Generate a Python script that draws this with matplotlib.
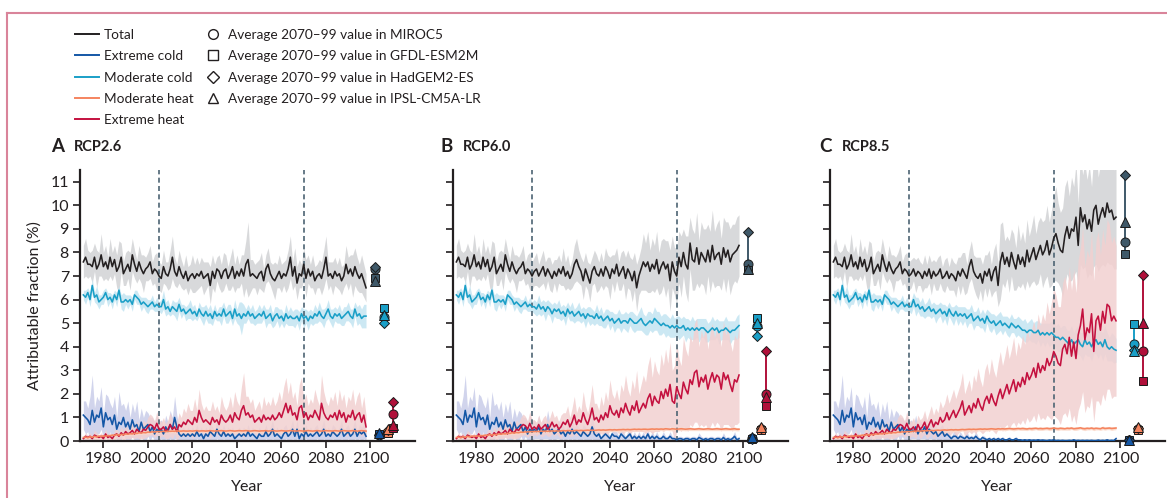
import numpy as np
import matplotlib.pyplot as plt
from matplotlib.lines import Line2D

plt.rcParams['font.family'] = ['Lato', 'DejaVu Sans']
plt.rcParams['font.size'] = 11

series_names = ['Total', 'Extreme cold', 'Moderate cold', 'Moderate heat', 'Extreme heat']
model_labels = ['Average 2070\u201399 value in MIROC5', 'Average 2070\u201399 value in GFDL-ESM2M',
                'Average 2070\u201399 value in HadGEM2-ES', 'Average 2070\u201399 value in IPSL-CM5A-LR']
panel_letters = ['A', 'B', 'C']
scenarios = ['RCP2.6', 'RCP6.0', 'RCP8.5']
hist_start = 1971
dashed_years = [2005, 2070]
xticks = [1980, 2000, 2020, 2040, 2060, 2080, 2100]
yticks = list(range(0, 12))

# ---- historical 1971-2005 (same in all panels) ----
tot_hist = [7.6, 7.8, 7.5, 7.5, 7.4, 7.8, 7.3, 7.5, 7.9, 7.4,
            7.6, 7.3, 7.8, 7.4, 7.7, 7.2, 7.4, 7.8, 7.1, 7.3,
            7.5, 7.2, 7.9, 7.5, 7.2, 7.6, 7.3, 7.1, 7.3, 7.4,
            7.6, 7.1, 7.3, 7.2, 7.0]
tot_hist_sp = [0.7, 0.8, 0.6, 0.5, 0.7, 0.6, 0.8, 0.5, 0.9, 0.6,
               0.7, 0.5, 0.8, 0.6, 0.6, 0.7, 1.1, 0.6, 0.5, 0.7,
               0.6, 0.8, 0.7, 0.6, 0.5, 0.7, 0.6, 0.8, 0.5, 0.6,
               0.7, 0.5, 0.6, 0.8, 0.6]
ecold_hist = [1.1, 1.0, 0.9, 0.7, 1.3, 0.8, 1.1, 1.0, 1.4, 0.6,
              1.2, 0.9, 1.0, 0.7, 1.1, 0.5, 0.8, 0.7, 1.0, 0.6,
              0.8, 0.5, 0.9, 0.6, 0.7, 0.4, 0.8, 0.5, 0.6, 0.7,
              0.4, 0.6, 0.3, 0.5, 0.4]
ecold_hist_sp = [0.6, 0.7, 0.5, 1.2, 1.5, 0.6, 0.8, 0.7, 0.9, 0.5,
                 0.8, 1.0, 0.6, 0.7, 0.8, 0.5, 1.3, 0.8, 0.6, 0.7,
                 0.9, 0.5, 0.7, 0.6, 1.0, 0.5, 0.6, 0.5, 0.7, 0.5,
                 0.6, 0.4, 0.5, 0.6, 0.4]
modc_hist = [6.2, 6.1, 6.3, 6.0, 6.6, 6.1, 6.2, 5.9, 6.0, 6.1,
             6.3, 6.0, 6.1, 5.9, 6.2, 6.0, 6.4, 5.9, 5.9, 6.0,
             5.9, 6.0, 5.8, 6.2, 6.1, 6.0, 5.8, 5.9, 5.8, 5.7,
             5.8, 5.9, 5.7, 5.8, 5.7]
modc_hist_sp = [0.2, 0.3, 0.2, 0.3, 0.3, 0.2, 0.4, 0.3, 0.2, 0.3,
                0.2, 0.3, 0.2, 0.3, 0.2, 0.3, 0.2, 0.3, 0.4, 0.2,
                0.3, 0.2, 0.3, 0.2, 0.3, 0.2, 0.3, 0.2, 0.3, 0.3,
                0.2, 0.3, 0.2, 0.3, 0.2]
mheat_hist = [0.15, 0.17, 0.14, 0.18, 0.16, 0.2, 0.17, 0.21, 0.19, 0.22,
              0.2, 0.23, 0.22, 0.25, 0.24, 0.27, 0.25, 0.28, 0.27, 0.3,
              0.29, 0.31, 0.3, 0.33, 0.32, 0.35, 0.34, 0.36, 0.35, 0.38,
              0.37, 0.39, 0.38, 0.4, 0.4]
mheat_hist_sp = [0.04, 0.05, 0.04, 0.05, 0.05, 0.04, 0.05, 0.06, 0.05, 0.05,
                 0.06, 0.05, 0.06, 0.05, 0.06, 0.06, 0.05, 0.06, 0.07, 0.06,
                 0.06, 0.07, 0.06, 0.07, 0.06, 0.07, 0.07, 0.06, 0.07, 0.08,
                 0.07, 0.07, 0.08, 0.07, 0.08]
eheat_hist = [0.1, 0.2, 0.15, 0.2, 0.1, 0.25, 0.2, 0.15, 0.2, 0.1,
              0.3, 0.15, 0.2, 0.1, 0.25, 0.3, 0.2, 0.35, 0.25, 0.4,
              0.3, 0.35, 0.45, 0.3, 0.5, 0.4, 0.35, 0.5, 0.45, 0.6,
              0.7, 0.65, 0.5, 0.75, 0.5]
eheat_hist_sp = [0.1, 0.15, 0.1, 0.15, 0.1, 0.2, 0.15, 0.1, 0.15, 0.1,
                 0.2, 0.1, 0.15, 0.1, 0.2, 0.2, 0.15, 0.25, 0.2, 0.3,
                 0.2, 0.25, 0.3, 0.2, 0.35, 0.3, 0.25, 0.4, 0.3, 0.4,
                 0.45, 0.4, 0.35, 0.5, 0.4]

# moderate heat band width 2006-2098 (thin, similar in all panels)
mheat_fut_sp = [0.06, 0.07, 0.06, 0.08, 0.07, 0.06, 0.07, 0.08, 0.07, 0.06,
                0.07, 0.08, 0.07, 0.06, 0.07, 0.08, 0.07, 0.07, 0.06, 0.08,
                0.07, 0.06, 0.08, 0.07, 0.07, 0.06, 0.08, 0.07, 0.06, 0.07,
                0.08, 0.07, 0.06, 0.07, 0.08, 0.07, 0.06, 0.07, 0.08, 0.07,
                0.07, 0.06, 0.08, 0.07, 0.06, 0.07, 0.08, 0.07, 0.06, 0.07,
                0.08, 0.07, 0.07, 0.06, 0.08, 0.07, 0.06, 0.07, 0.08, 0.07,
                0.06, 0.07, 0.08, 0.07, 0.06, 0.07, 0.08, 0.07, 0.07, 0.06,
                0.08, 0.07, 0.06, 0.07, 0.08, 0.07, 0.06, 0.07, 0.08, 0.07,
                0.06, 0.07, 0.08, 0.07, 0.06, 0.07, 0.08, 0.07, 0.06, 0.07,
                0.08, 0.07, 0.07]

# ---- RCP2.6, 2006-2098 ----
tot_A = [6.9, 7.4, 7.1, 7.0, 7.3, 7.8, 7.2, 7.0, 7.4, 7.1,
         6.9, 7.2, 6.8, 7.0, 7.1, 6.9, 7.1, 7.0, 7.2, 6.9,
         7.0, 7.1, 6.6, 7.2, 6.9, 7.3, 7.2, 6.9, 7.2, 7.3,
         6.9, 7.1, 7.4, 6.9, 7.2, 7.0, 7.3, 7.0, 7.5, 7.7,
         7.0, 7.1, 7.0, 6.9, 7.1, 7.2, 6.8, 7.3, 7.5, 7.1,
         6.9, 6.8, 7.0, 7.2, 6.9, 7.1, 7.0, 7.3, 7.8, 7.0,
         7.4, 6.7, 7.1, 7.0, 7.5, 6.9, 7.3, 7.0, 7.2, 6.8,
         7.0, 7.1, 6.9, 7.3, 7.8, 7.0, 7.1, 6.9, 7.2, 7.0,
         7.1, 6.8, 7.0, 7.5, 7.1, 7.3, 7.0, 7.4, 7.1, 6.9,
         7.1, 6.8, 6.5]
tot_A_sp = [0.6, 0.7, 0.5, 0.6, 0.8, 0.9, 0.6, 0.5, 0.7, 0.6,
            0.5, 0.7, 0.6, 0.5, 0.8, 0.6, 0.7, 0.5, 0.6, 0.7,
            0.6, 0.5, 0.8, 0.7, 0.6, 0.5, 0.7, 0.6, 0.8, 0.6,
            0.5, 0.7, 0.8, 0.6, 0.7, 0.5, 0.6, 0.9, 1.0, 1.6,
            0.7, 0.6, 0.5, 0.7, 0.6, 0.8, 0.5, 0.6, 0.7, 0.5,
            0.6, 0.8, 0.5, 0.7, 0.6, 0.5, 0.7, 0.8, 0.9, 0.6,
            0.8, 0.7, 0.6, 0.5, 0.7, 0.8, 0.6, 0.5, 0.7, 0.6,
            0.5, 0.6, 0.7, 0.8, 0.9, 0.6, 0.5, 0.7, 0.6, 0.5,
            0.7, 0.6, 0.5, 0.8, 0.7, 0.6, 0.9, 0.8, 0.7, 0.6,
            0.8, 0.7, 0.6]
ecold_A = [0.5, 0.3, 0.6, 0.4, 0.7, 0.5, 1.0, 0.6, 0.3, 0.2,
           0.3, 0.2, 0.3, 0.2, 0.3, 0.2, 0.4, 0.2, 0.3, 0.1,
           0.3, 0.2, 0.4, 0.3, 0.2, 0.5, 0.3, 0.2, 0.4, 0.2,
           0.3, 0.2, 0.3, 0.1, 0.2, 0.3, 0.2, 0.3, 0.2, 0.4,
           0.2, 0.3, 0.2, 0.1, 0.3, 0.2, 0.2, 0.4, 0.2, 0.3,
           0.5, 0.2, 0.3, 0.2, 0.1, 0.3, 0.4, 0.2, 0.3, 0.5,
           0.2, 0.5, 0.1, 0.3, 0.2, 0.4, 0.2, 0.3, 0.2, 0.3,
           0.4, 0.2, 0.3, 0.5, 0.2, 0.3, 0.2, 0.4, 0.3, 0.2,
           0.3, 0.5, 0.2, 0.3, 0.4, 0.2, 0.3, 0.5, 0.2, 0.4,
           0.3, 0.4, 0.2]
ecold_A_sp = [0.4, 0.3, 0.5, 0.4, 0.6, 0.5, 0.9, 0.5, 0.3, 0.3,
              0.3, 0.2, 0.3, 0.2, 0.3, 0.2, 0.3, 0.2, 0.3, 0.2,
              0.3, 0.2, 0.4, 0.3, 0.2, 0.4, 0.3, 0.2, 0.3, 0.2,
              0.3, 0.2, 0.3, 0.2, 0.2, 0.3, 0.2, 0.3, 0.2, 0.3,
              0.2, 0.3, 0.2, 0.2, 0.3, 0.2, 0.2, 0.3, 0.2, 0.3,
              0.4, 0.2, 0.3, 0.2, 0.2, 0.3, 0.3, 0.2, 0.3, 0.4,
              0.2, 0.4, 0.2, 0.3, 0.2, 0.3, 0.2, 0.3, 0.2, 0.3,
              0.3, 0.2, 0.3, 0.4, 0.2, 0.3, 0.2, 0.3, 0.3, 0.2,
              0.3, 0.4, 0.2, 0.3, 0.3, 0.2, 0.3, 0.4, 0.2, 0.3,
              0.3, 0.3, 0.2]
modc_A = [5.7, 6.0, 5.6, 5.7, 5.5, 5.7, 5.6, 5.5, 5.8, 5.5,
          5.6, 5.4, 5.5, 5.6, 5.4, 5.5, 5.3, 5.6, 5.4, 5.3,
          5.5, 5.3, 5.4, 5.2, 5.5, 5.3, 5.4, 5.3, 5.6, 5.3,
          5.4, 5.5, 5.2, 5.6, 5.3, 5.4, 5.2, 5.4, 5.3, 5.5,
          5.3, 5.4, 5.2, 5.3, 5.4, 5.3, 5.5, 5.2, 5.3, 5.4,
          5.1, 5.3, 5.4, 5.2, 5.3, 5.1, 5.4, 5.2, 5.3, 5.2,
          5.2, 5.3, 5.1, 5.4, 5.2, 5.3, 5.1, 5.3, 5.2, 5.4,
          5.3, 5.5, 5.3, 5.2, 5.4, 5.6, 5.3, 5.2, 5.4, 5.3,
          5.4, 5.2, 5.3, 5.4, 5.5, 5.3, 5.2, 5.6, 5.3, 5.4,
          5.2, 5.3, 5.3]
modc_A_sp = [0.3, 0.4, 0.3, 0.3, 0.2, 0.3, 0.3, 0.4, 0.3, 0.3,
             0.2, 0.3, 0.3, 0.4, 0.3, 0.3, 0.2, 0.3, 0.3, 0.4,
             0.3, 0.3, 0.4, 0.3, 0.3, 0.2, 0.3, 0.4, 0.3, 0.3,
             0.4, 0.3, 0.3, 0.4, 0.3, 0.5, 0.7, 0.4, 0.3, 0.3,
             0.3, 0.4, 0.3, 0.3, 0.4, 0.3, 0.3, 0.4, 0.3, 0.4,
             0.3, 0.4, 0.3, 0.4, 0.3, 0.3, 0.4, 0.3, 0.4, 0.3,
             0.4, 0.3, 0.4, 0.3, 0.4, 0.3, 0.4, 0.3, 0.3, 0.4,
             0.3, 0.4, 0.3, 0.4, 0.3, 0.4, 0.3, 0.4, 0.3, 0.3,
             0.4, 0.3, 0.4, 0.3, 0.4, 0.3, 0.4, 0.3, 0.4, 0.4,
             0.4, 0.5, 0.5]
mheat_A = [0.4, 0.41, 0.4, 0.42, 0.41, 0.42, 0.41, 0.43, 0.42, 0.42,
           0.43, 0.42, 0.42, 0.43, 0.42, 0.43, 0.44, 0.42, 0.43, 0.43,
           0.42, 0.43, 0.44, 0.43, 0.42, 0.43, 0.43, 0.44, 0.43, 0.42,
           0.43, 0.44, 0.43, 0.42, 0.43, 0.44, 0.43, 0.43, 0.44, 0.43,
           0.42, 0.43, 0.44, 0.43, 0.42, 0.43, 0.43, 0.44, 0.42, 0.43,
           0.44, 0.43, 0.42, 0.43, 0.44, 0.43, 0.42, 0.43, 0.44, 0.43,
           0.43, 0.42, 0.44, 0.43, 0.42, 0.43, 0.44, 0.43, 0.42, 0.43,
           0.44, 0.43, 0.42, 0.43, 0.44, 0.43, 0.43, 0.42, 0.44, 0.43,
           0.42, 0.43, 0.44, 0.43, 0.42, 0.43, 0.44, 0.43, 0.42, 0.43,
           0.44, 0.43, 0.42]
eheat_A = [0.5, 0.6, 0.4, 0.5, 0.7, 0.5, 0.6, 0.4, 0.7, 0.6,
           0.8, 0.7, 0.9, 0.8, 0.7, 1.0, 0.8, 1.3, 1.0, 0.8,
           0.9, 0.8, 0.7, 1.0, 0.8, 0.9, 0.7, 1.1, 0.9, 0.8,
           0.9, 1.1, 0.8, 1.2, 1.0, 0.9, 1.3, 1.5, 1.1, 1.2,
           1.0, 1.1, 0.8, 0.9, 1.0, 0.8, 1.1, 0.9, 1.0, 0.9,
           1.1, 0.9, 1.0, 1.2, 1.0, 1.3, 1.6, 1.2, 1.5, 1.1,
           1.2, 0.9, 1.4, 1.5, 1.0, 1.2, 0.9, 1.1, 1.0, 1.3,
           1.1, 0.9, 1.6, 1.2, 1.0, 0.9, 1.1, 1.0, 1.2, 0.9,
           1.3, 1.0, 1.2, 0.8, 1.1, 1.0, 1.3, 0.9, 1.1, 1.2,
           0.8, 1.1, 0.6]
eheat_A_sp = [0.3, 0.4, 0.3, 0.4, 0.5, 0.4, 0.3, 0.4, 0.5, 0.4,
              0.6, 0.5, 0.7, 0.5, 0.6, 0.8, 0.5, 0.9, 0.6, 0.5,
              0.6, 0.5, 0.6, 0.7, 0.5, 0.6, 0.5, 0.8, 0.6, 0.5,
              0.6, 0.8, 0.6, 0.9, 0.7, 0.6, 1.0, 1.4, 0.8, 0.7,
              0.6, 0.7, 0.5, 0.6, 0.7, 0.5, 0.8, 0.6, 0.7, 0.6,
              0.8, 0.6, 0.7, 0.9, 0.7, 1.0, 1.1, 0.8, 1.0, 0.7,
              0.9, 0.6, 1.0, 1.2, 0.7, 0.8, 0.6, 0.7, 0.6, 0.9,
              0.7, 0.6, 1.2, 0.9, 0.7, 0.6, 0.8, 0.7, 0.9, 0.6,
              0.9, 0.7, 0.8, 0.6, 0.8, 0.7, 0.9, 0.6, 0.8, 0.9,
              0.6, 0.8, 0.5]

# ---- RCP6.0, 2006-2098 ----
tot_B = [7.2, 7.3, 7.0, 7.2, 7.4, 7.0, 7.3, 7.1, 6.9, 7.2,
         7.0, 7.3, 7.1, 7.4, 7.0, 7.2, 6.9, 7.1, 7.5, 7.7,
         7.4, 7.2, 6.8, 7.3, 7.0, 6.7, 7.2, 7.4, 7.1, 7.0,
         7.3, 7.0, 7.4, 7.2, 6.9, 7.3, 7.1, 7.5, 7.0, 7.2,
         7.4, 6.9, 7.3, 7.1, 6.8, 7.2, 6.5, 7.0, 7.3, 7.6,
         7.4, 7.6, 7.2, 7.5, 7.3, 7.7, 7.1, 7.4, 7.6, 7.3,
         7.5, 6.8, 7.6, 7.2, 7.0, 7.8, 7.4, 8.0, 7.5, 7.3,
         8.4, 7.7, 7.6, 8.2, 7.5, 8.0, 7.8, 7.6, 8.1, 7.6,
         8.3, 7.7, 7.9, 8.0, 7.5, 8.2, 7.8, 8.1, 7.6, 7.9,
         8.0, 8.1, 8.3]
tot_B_sp = [0.6, 0.7, 0.5, 0.6, 0.7, 0.6, 0.5, 0.7, 0.6, 0.5,
            0.7, 0.6, 0.5, 0.8, 0.6, 0.7, 0.5, 0.6, 0.8, 0.9,
            0.7, 0.6, 0.8, 0.7, 0.6, 0.8, 0.6, 0.7, 0.8, 0.6,
            0.7, 0.6, 0.8, 0.7, 0.9, 0.6, 0.8, 0.7, 0.6, 0.8,
            0.7, 0.9, 0.8, 0.7, 0.9, 0.8, 1.0, 0.8, 0.9, 1.2,
            1.0, 1.3, 0.9, 1.1, 1.0, 1.2, 0.9, 1.1, 1.0, 1.2,
            1.0, 1.3, 1.1, 1.0, 1.2, 1.1, 1.3, 1.0, 1.2, 1.4,
            1.1, 1.3, 1.2, 1.5, 1.0, 1.3, 1.2, 1.4, 1.1, 1.3,
            1.5, 1.2, 1.3, 1.4, 1.1, 1.3, 1.5, 1.2, 1.4, 1.3,
            1.2, 1.4, 1.3]
ecold_B = [0.5, 0.4, 0.6, 0.3, 0.5, 0.4, 0.7, 0.4, 0.5, 0.3,
           0.4, 0.5, 0.3, 0.4, 0.2, 0.4, 0.3, 0.5, 0.3, 0.4,
           0.3, 0.2, 0.4, 0.3, 0.2, 0.3, 0.6, 0.3, 0.2, 0.3,
           0.1, 0.2, 0.3, 0.2, 0.1, 0.3, 0.2, 0.2, 0.1, 0.3,
           0.2, 0.1, 0.2, 0.3, 0.1, 0.2, 0.1, 0.2, 0.1, 0.2,
           0.1, 0.3, 0.1, 0.2, 0.1, 0.2, 0.1, 0.1, 0.2, 0.1,
           0.1, 0.2, 0.1, 0.1, 0.05, 0.1, 0.1, 0.05, 0.1, 0.1,
           0.05, 0.1, 0.1, 0.05, 0.15, 0.1, 0.05, 0.1, 0.05, 0.1,
           0.1, 0.05, 0.1, 0.1, 0.05, 0.15, 0.05, 0.1, 0.05, 0.1,
           0.2, 0.05, 0.1]
ecold_B_sp = [0.4, 0.3, 0.5, 0.3, 0.4, 0.3, 0.6, 0.4, 0.4, 0.3,
              0.3, 0.4, 0.3, 0.3, 0.2, 0.3, 0.3, 0.4, 0.3, 0.3,
              0.3, 0.2, 0.3, 0.3, 0.2, 0.3, 0.5, 0.3, 0.2, 0.3,
              0.1, 0.2, 0.2, 0.2, 0.1, 0.2, 0.2, 0.2, 0.1, 0.2,
              0.2, 0.1, 0.2, 0.2, 0.1, 0.2, 0.1, 0.2, 0.1, 0.2,
              0.1, 0.2, 0.1, 0.2, 0.1, 0.2, 0.1, 0.1, 0.2, 0.1,
              0.1, 0.2, 0.1, 0.1, 0.1, 0.1, 0.1, 0.1, 0.1, 0.1,
              0.1, 0.1, 0.1, 0.1, 0.2, 0.1, 0.1, 0.1, 0.1, 0.1,
              0.1, 0.1, 0.1, 0.1, 0.1, 0.2, 0.1, 0.1, 0.1, 0.1,
              0.2, 0.1, 0.1]
modc_B = [5.7, 5.6, 5.8, 5.6, 5.7, 5.5, 5.7, 5.6, 5.4, 5.6,
          5.5, 5.6, 5.4, 5.5, 5.3, 5.6, 5.4, 5.5, 5.3, 5.4,
          5.5, 5.3, 5.4, 5.2, 5.4, 5.3, 5.3, 5.2, 5.4, 5.2,
          5.3, 5.1, 5.2, 5.3, 5.1, 5.2, 5.0, 5.1, 5.2, 5.0,
          5.1, 5.1, 5.0, 5.2, 5.1, 5.0, 5.0, 5.1, 5.2, 5.0,
          4.9, 5.0, 5.1, 5.0, 5.2, 5.1, 5.0, 4.9, 5.0, 4.9,
          4.9, 4.8, 4.9, 4.8, 4.9, 4.8, 4.8, 4.9, 4.7, 4.8,
          4.7, 4.8, 4.7, 4.8, 4.7, 4.8, 4.8, 4.7, 4.6, 4.7,
          4.8, 4.7, 4.8, 4.6, 4.7, 4.7, 4.8, 4.7, 4.6, 4.7,
          4.7, 4.8, 4.9]
modc_B_sp = [0.3, 0.3, 0.4, 0.3, 0.3, 0.4, 0.3, 0.3, 0.4, 0.3,
             0.3, 0.4, 0.3, 0.3, 0.4, 0.3, 0.3, 0.4, 0.3, 0.3,
             0.4, 0.3, 0.3, 0.4, 0.3, 0.4, 0.3, 0.3, 0.4, 0.3,
             0.4, 0.3, 0.4, 0.3, 0.4, 0.3, 0.4, 0.3, 0.4, 0.4,
             0.3, 0.4, 0.4, 0.3, 0.4, 0.4, 0.3, 0.4, 0.5, 0.4,
             0.4, 0.5, 0.4, 0.4, 0.5, 0.4, 0.5, 0.4, 0.4, 0.5,
             0.4, 0.4, 0.5, 0.4, 0.4, 0.5, 0.4, 0.4, 0.5, 0.4,
             0.4, 0.5, 0.4, 0.4, 0.5, 0.4, 0.4, 0.5, 0.4, 0.4,
             0.5, 0.4, 0.4, 0.5, 0.4, 0.4, 0.5, 0.4, 0.5, 0.4,
             0.4, 0.5, 0.5]
mheat_B = [0.4, 0.41, 0.4, 0.42, 0.41, 0.42, 0.41, 0.42, 0.43, 0.42,
           0.43, 0.42, 0.43, 0.44, 0.43, 0.44, 0.44, 0.43, 0.44, 0.45,
           0.44, 0.45, 0.44, 0.45, 0.46, 0.45, 0.46, 0.45, 0.46, 0.47,
           0.46, 0.47, 0.46, 0.47, 0.48, 0.47, 0.48, 0.47, 0.48, 0.48,
           0.49, 0.48, 0.49, 0.48, 0.49, 0.5, 0.49, 0.5, 0.49, 0.5,
           0.5, 0.49, 0.5, 0.51, 0.5, 0.51, 0.5, 0.51, 0.5, 0.52,
           0.51, 0.5, 0.52, 0.51, 0.5, 0.51, 0.52, 0.51, 0.5, 0.51,
           0.52, 0.51, 0.5, 0.51, 0.52, 0.51, 0.5, 0.51, 0.52, 0.51,
           0.5, 0.51, 0.52, 0.51, 0.5, 0.51, 0.52, 0.51, 0.5, 0.51,
           0.52, 0.5, 0.5]
eheat_B = [0.6, 0.5, 0.7, 0.5, 0.6, 0.7, 0.5, 0.6, 0.8, 0.6,
           0.7, 0.5, 0.6, 0.8, 0.7, 0.9, 0.6, 0.8, 1.1, 0.7,
           0.9, 0.8, 1.2, 0.9, 0.7, 1.0, 1.4, 0.9, 1.0, 0.8,
           1.1, 0.9, 1.2, 1.0, 1.5, 1.2, 1.1, 1.3, 1.0, 1.4,
           1.2, 1.6, 1.3, 1.1, 1.5, 1.3, 1.7, 1.2, 1.4, 1.6,
           1.4, 1.8, 2.0, 1.5, 1.9, 1.7, 1.6, 2.1, 1.8, 2.2,
           1.9, 2.4, 1.7, 1.6, 2.3, 2.0, 1.8, 2.5, 2.2, 2.0,
           2.6, 2.4, 2.9, 3.0, 2.3, 2.7, 2.5, 2.8, 2.2, 2.6,
           2.9, 2.5, 2.8, 2.7, 2.2, 2.9, 2.6, 2.8, 2.4, 2.1,
           2.6, 2.5, 2.8]
eheat_B_sp = [0.3, 0.3, 0.4, 0.3, 0.4, 0.4, 0.3, 0.4, 0.5, 0.4,
              0.4, 0.3, 0.5, 0.4, 0.5, 0.6, 0.4, 0.6, 0.8, 0.5,
              0.6, 0.5, 0.9, 0.6, 0.5, 0.7, 1.0, 0.7, 0.6, 0.5,
              0.8, 0.6, 0.9, 0.7, 1.1, 0.8, 0.7, 0.9, 0.7, 1.0,
              0.9, 1.2, 0.9, 0.8, 1.1, 0.9, 1.3, 0.8, 1.0, 1.2,
              1.1, 1.4, 1.6, 1.2, 1.5, 1.3, 1.2, 1.6, 1.4, 1.7,
              1.4, 1.8, 1.3, 1.6, 1.9, 1.5, 1.4, 1.9, 1.7, 1.6,
              1.9, 1.8, 2.1, 2.2, 1.7, 2.0, 1.9, 2.1, 1.7, 2.0,
              2.1, 1.9, 2.0, 2.0, 1.8, 2.2, 1.9, 2.1, 1.8, 1.7,
              1.9, 1.8, 2.0]

# ---- RCP8.5, 2006-2098 ----
tot_C = [7.1, 7.3, 7.0, 7.2, 7.1, 6.9, 7.2, 7.0, 7.3, 6.9,
         7.2, 7.0, 7.1, 7.3, 6.9, 7.0, 7.2, 6.9, 7.1, 7.0,
         6.8, 7.2, 7.0, 7.3, 7.1, 6.9, 7.4, 7.7, 7.2, 7.0,
         6.9, 7.1, 6.7, 7.2, 7.0, 7.3, 6.8, 7.2, 7.4, 6.6,
         7.6, 8.0, 7.5, 7.8, 7.4, 8.0, 7.6, 7.3, 7.9, 7.5,
         7.8, 7.4, 8.1, 7.6, 7.9, 8.2, 7.7, 8.0, 8.3, 7.9,
         8.1, 8.5, 7.9, 8.2, 8.6, 8.8, 8.4, 8.1, 8.0, 8.7,
         9.1, 8.6, 9.0, 8.9, 9.5, 8.3, 9.9, 9.3, 9.6, 9.0,
         9.4, 8.9, 9.8, 10.0, 9.2, 9.6, 9.9, 9.5, 10.1, 9.7,
         9.8, 9.4, 9.5]
tot_C_sp = [0.6, 0.5, 0.7, 0.6, 0.5, 0.6, 0.7, 0.5, 0.6, 0.7,
            0.5, 0.6, 0.7, 0.6, 0.5, 0.7, 0.6, 0.5, 0.7, 0.6,
            0.7, 0.6, 0.8, 0.7, 0.9, 0.6, 0.7, 0.8, 0.7, 0.8,
            0.9, 0.7, 0.8, 0.7, 0.9, 0.8, 0.7, 0.9, 1.0, 0.9,
            1.6, 1.3, 1.0, 0.9, 1.1, 1.0, 1.2, 0.9, 1.3, 1.0,
            1.1, 1.0, 1.3, 1.1, 1.2, 1.4, 1.1, 1.3, 1.2, 1.4,
            1.3, 1.5, 1.4, 1.6, 1.8, 2.0, 1.7, 1.6, 1.9, 2.1,
            2.0, 1.8, 2.2, 1.9, 2.3, 1.8, 2.4, 2.0, 2.2, 2.1,
            2.3, 1.9, 2.4, 2.5, 2.0, 2.2, 2.4, 2.1, 2.5, 2.2,
            2.3, 2.1, 2.2]
ecold_C = [0.5, 0.4, 0.6, 0.3, 0.5, 0.4, 0.6, 0.3, 0.5, 0.4,
           0.3, 0.4, 0.2, 0.3, 0.4, 0.2, 0.3, 0.2, 0.1, 0.2,
           0.2, 0.1, 0.2, 0.15, 0.1, 0.2, 0.1, 0.15, 0.1, 0.2,
           0.1, 0.05, 0.15, 0.1, 0.05, 0.1, 0.05, 0.1, 0.05, 0.1,
           0.05, 0.1, 0.05, 0.05, 0.1, 0.05, 0.05, 0.1, 0.05, 0.05,
           0.03, 0.05, 0.03, 0.05, 0.03, 0.04, 0.03, 0.05, 0.03, 0.04,
           0.03, 0.02, 0.04, 0.03, 0.05, 0.02, 0.03, 0.02, 0.03, 0.02,
           0.02, 0.03, 0.02, 0.05, 0.02, 0.03, 0.02, 0.03, 0.02, 0.03,
           0.02, 0.03, 0.02, 0.02, 0.04, 0.02, 0.03, 0.02, 0.05, 0.02,
           0.03, 0.02, 0.1]
ecold_C_sp = [0.4, 0.3, 0.5, 0.3, 0.4, 0.3, 0.5, 0.3, 0.4, 0.3,
              0.3, 0.3, 0.2, 0.3, 0.3, 0.2, 0.3, 0.2, 0.1, 0.2,
              0.2, 0.1, 0.2, 0.1, 0.1, 0.2, 0.1, 0.1, 0.1, 0.2,
              0.1, 0.05, 0.1, 0.1, 0.05, 0.1, 0.05, 0.1, 0.05, 0.1,
              0.05, 0.1, 0.05, 0.05, 0.1, 0.05, 0.05, 0.1, 0.05, 0.05,
              0.03, 0.05, 0.03, 0.05, 0.03, 0.04, 0.03, 0.05, 0.03, 0.04,
              0.03, 0.02, 0.04, 0.03, 0.05, 0.02, 0.03, 0.02, 0.03, 0.02,
              0.02, 0.03, 0.02, 0.05, 0.02, 0.03, 0.02, 0.03, 0.02, 0.03,
              0.02, 0.03, 0.02, 0.02, 0.04, 0.02, 0.03, 0.02, 0.05, 0.02,
              0.03, 0.02, 0.1]
modc_C = [5.7, 6.0, 5.7, 5.8, 5.6, 5.7, 5.5, 5.6, 5.7, 5.5,
          5.6, 5.4, 5.5, 5.6, 5.4, 5.5, 5.3, 5.6, 5.4, 5.3,
          5.5, 5.3, 5.4, 5.3, 5.4, 5.2, 5.3, 5.4, 5.1, 5.2,
          5.3, 5.1, 5.2, 5.0, 5.3, 5.1, 5.0, 5.1, 4.9, 5.0,
          5.1, 4.9, 5.0, 4.9, 4.8, 5.0, 4.9, 4.8, 4.9, 4.8,
          4.7, 4.7, 4.6, 4.7, 4.7, 4.6, 4.6, 4.7, 4.5, 4.6,
          4.5, 4.6, 4.5, 4.6, 4.5, 4.4, 4.4, 4.3, 4.4, 4.3,
          4.2, 4.1, 4.3, 4.1, 4.2, 4.3, 4.1, 4.0, 4.3, 4.1,
          4.2, 4.0, 4.2, 4.3, 4.1, 4.2, 4.0, 4.3, 4.0, 3.9,
          4.0, 3.9, 3.85]
modc_C_sp = [0.3, 0.3, 0.4, 0.3, 0.3, 0.4, 0.3, 0.3, 0.4, 0.3,
             0.3, 0.4, 0.3, 0.3, 0.4, 0.3, 0.4, 0.3, 0.3, 0.4,
             0.3, 0.4, 0.3, 0.4, 0.3, 0.4, 0.3, 0.4, 0.4, 0.3,
             0.4, 0.3, 0.4, 0.4, 0.3, 0.4, 0.4, 0.3, 0.4, 0.4,
             0.4, 0.4, 0.3, 0.4, 0.4, 0.4, 0.3, 0.4, 0.4, 0.4,
             0.4, 0.5, 0.4, 0.4, 0.5, 0.4, 0.5, 0.4, 0.5, 0.4,
             0.5, 0.4, 0.5, 0.5, 0.5, 0.5, 0.6, 0.5, 0.5, 0.6,
             0.5, 0.6, 0.6, 0.5, 0.6, 0.6, 0.5, 0.6, 0.6, 0.5,
             0.6, 0.6, 0.5, 0.6, 0.6, 0.5, 0.6, 0.6, 0.6, 0.5,
             0.6, 0.6, 0.5]
mheat_C = [0.4, 0.42, 0.41, 0.43, 0.42, 0.43, 0.44, 0.43, 0.44, 0.45,
           0.44, 0.45, 0.46, 0.45, 0.46, 0.47, 0.46, 0.47, 0.48, 0.47,
           0.48, 0.47, 0.48, 0.49, 0.48, 0.49, 0.5, 0.49, 0.5, 0.49,
           0.5, 0.51, 0.5, 0.51, 0.5, 0.51, 0.52, 0.51, 0.5, 0.52,
           0.51, 0.52, 0.51, 0.52, 0.53, 0.52, 0.51, 0.52, 0.53, 0.52,
           0.53, 0.52, 0.51, 0.53, 0.52, 0.53, 0.54, 0.52, 0.53, 0.52,
           0.53, 0.54, 0.52, 0.53, 0.55, 0.53, 0.52, 0.54, 0.53, 0.52,
           0.54, 0.53, 0.55, 0.52, 0.53, 0.54, 0.56, 0.53, 0.52, 0.54,
           0.53, 0.55, 0.52, 0.54, 0.53, 0.52, 0.56, 0.53, 0.54, 0.55,
           0.53, 0.54, 0.55]
eheat_C = [0.5, 0.6, 0.4, 0.7, 0.5, 0.6, 0.8, 0.5, 0.7, 0.9,
           0.6, 0.8, 0.7, 1.0, 0.8, 0.9, 1.2, 0.9, 1.1, 1.3,
           1.0, 1.2, 1.4, 1.7, 1.1, 1.3, 1.5, 1.2, 1.6, 1.4,
           1.8, 1.5, 1.3, 1.7, 1.9, 1.6, 2.0, 1.7, 1.5, 1.9,
           2.2, 1.8, 2.1, 2.4, 2.0, 2.3, 2.6, 2.1, 2.5, 2.3,
           2.7, 2.4, 2.9, 2.6, 2.8, 3.1, 2.7, 3.3, 2.9, 3.2,
           3.0, 3.5, 3.2, 3.4, 3.8, 3.6, 3.3, 3.2, 3.9, 4.1,
           3.7, 4.4, 3.6, 4.2, 3.5, 4.5, 4.9, 5.6, 4.3, 4.8,
           4.6, 5.4, 3.8, 5.1, 5.3, 4.7, 5.5, 5.0, 5.8, 5.7,
           5.1, 5.3, 5.1]
eheat_C_sp = [0.3, 0.4, 0.3, 0.4, 0.4, 0.4, 0.5, 0.4, 0.5, 0.6,
              0.5, 0.6, 0.5, 0.7, 0.6, 0.7, 0.8, 0.7, 0.8, 0.9,
              0.8, 0.9, 1.0, 1.2, 0.9, 1.0, 1.1, 0.9, 1.2, 1.1,
              1.3, 1.1, 1.0, 1.3, 1.4, 1.2, 1.5, 1.3, 1.2, 1.4,
              1.6, 1.4, 1.5, 1.7, 1.5, 1.6, 1.8, 1.5, 1.7, 1.6,
              1.8, 1.7, 1.9, 1.8, 1.9, 2.0, 1.9, 2.1, 2.0, 2.2,
              2.1, 2.4, 2.2, 2.5, 2.7, 2.6, 2.4, 2.5, 2.8, 2.9,
              2.7, 3.0, 2.8, 3.1, 2.8, 3.2, 3.3, 3.5, 3.1, 3.3,
              3.2, 3.5, 3.0, 3.4, 3.6, 3.2, 3.5, 3.3, 3.6, 3.5,
              3.3, 3.4, 3.2]

# 2070-99 model averages: rows = series, cols = MIROC5, GFDL, HadGEM2, IPSL
mk_A = [[7.3, 6.9, 7.4, 6.8], [0.25, 0.3, 0.25, 0.35], [5.25, 5.65, 5.0, 5.35],
        [0.4, 0.35, 0.45, 0.5], [1.15, 0.55, 1.65, 0.7]]
mk_B = [[7.5, 7.25, 8.85, 7.3], [0.12, 0.1, 0.1, 0.15], [4.9, 5.2, 4.45, 5.0],
        [0.5, 0.45, 0.55, 0.6], [2.0, 1.5, 3.8, 1.85]]
mk_C = [[8.45, 7.95, 11.3, 9.3], [0.04, 0.03, 0.03, 0.05], [4.1, 4.97, 3.85, 3.8],
        [0.5, 0.45, 0.55, 0.6], [3.8, 2.55, 7.05, 5.0]]

# styles
line_cols = ['#231f20', '#1457a6', '#1a9fc7', '#f5845f', '#c4113f']
band_cols = ['#d2d3d5', '#c9cde9', '#c4e5f2', '#fbd7c7', '#f2d0d0']
mk_cols = ['#3f5969', '#1457a6', '#1a9fc7', '#f5845f', '#b0103a']
mk_x = [2102, 2104, 2106, 2108, 2110]
shapes = ['o', 's', 'D', '^']
shape_ms = [6.5, 6.0, 5.5, 7.0]
draw_order = [0, 2, 1, 4, 3]

hist = [(tot_hist, tot_hist_sp), (ecold_hist, ecold_hist_sp), (modc_hist, modc_hist_sp),
        (mheat_hist, mheat_hist_sp), (eheat_hist, eheat_hist_sp)]
futures = [
    [(tot_A, tot_A_sp), (ecold_A, ecold_A_sp), (modc_A, modc_A_sp), (mheat_A, mheat_fut_sp), (eheat_A, eheat_A_sp)],
    [(tot_B, tot_B_sp), (ecold_B, ecold_B_sp), (modc_B, modc_B_sp), (mheat_B, mheat_fut_sp), (eheat_B, eheat_B_sp)],
    [(tot_C, tot_C_sp), (ecold_C, ecold_C_sp), (modc_C, modc_C_sp), (mheat_C, mheat_fut_sp), (eheat_C, eheat_C_sp)],
]
markers = [mk_A, mk_B, mk_C]

W, H = 1167, 498
fig = plt.figure(figsize=(W / 100, H / 100), dpi=100)
ink = '#231f20'

ax_left = [80, 453, 830]
letter_x = [51, 440, 819]
for p in range(3):
    ax = fig.add_axes([ax_left[p] / W, 57 / H, 335 / W, 271 / H])
    for j in draw_order:
        hv, hs = hist[j]
        fv, fs = futures[p][j]
        v = np.array(hv + fv)
        s = np.array(hs + fs)
        n = min(len(v), len(s))
        v, s = v[:n], s[:n]
        x = np.arange(hist_start, hist_start + n)
        ax.fill_between(x, np.clip(v - s, 0, None), v + s, color=band_cols[j], lw=0, alpha=0.85, zorder=1)
    for j in draw_order:
        v = np.array(hist[j][0] + futures[p][j][0])
        x = np.arange(hist_start, hist_start + len(v))
        ax.plot(x, v, color=line_cols[j], lw=1.15, zorder=3)
    for yr in dashed_years:
        ax.axvline(yr, color='#4d6473', lw=1.2, ls=(0, (3, 2)), zorder=2)
    for j in range(5):
        vals = markers[p][j]
        ax.plot([mk_x[j], mk_x[j]], [min(vals), max(vals)], color=mk_cols[j], lw=1.4, zorder=5, clip_on=False)
        for k in range(4):
            ax.plot(mk_x[j], vals[k], marker=shapes[k], ms=shape_ms[k], mfc=mk_cols[j], mec='#1a1a1a',
                    mew=0.7, ls='none', zorder=6, clip_on=False)

    ax.set_xlim(1969.5, 2120)
    ax.set_ylim(0, 11.5)
    ax.set_xticks(xticks)
    ax.set_yticks(yticks)
    ax.spines['top'].set_visible(False)
    ax.spines['right'].set_visible(False)
    for sp in ['left', 'bottom']:
        ax.spines[sp].set_linewidth(1.6)
        ax.spines[sp].set_color(ink)
    ax.tick_params(length=5, width=1.2, color=ink, labelcolor=ink, labelsize=11.5, pad=3)
    if p > 0:
        ax.set_yticklabels([])
    else:
        ax.set_ylabel('Attributable fraction (%)', fontsize=11.5, color=ink, labelpad=6)
    ax.set_xlabel('Year', fontsize=11.5, color=ink, labelpad=10)
    fig.text(letter_x[p] / W, 1 - 147 / H, panel_letters[p], fontsize=13.5, fontweight='bold',
             color=ink, va='center')
    fig.text((letter_x[p] + 23) / W, 1 - 147 / H, scenarios[p], fontsize=10.5, fontweight='bold',
             color=ink, va='center')

# legends
leg_size = 9.8
h1 = [Line2D([], [], color=line_cols[j], lw=1.4) for j in range(5)]
leg1 = fig.legend(h1, series_names, loc='upper left', bbox_to_anchor=(75 / W, 1 - 29 / H), frameon=False,
                  handlelength=1.75, handletextpad=0.37, labelspacing=0.68, borderpad=0, borderaxespad=0,
                  fontsize=leg_size)
h2 = [Line2D([], [], ls='none', marker=shapes[k], ms=shape_ms[k] + 0.5, mfc='none', mec=ink, mew=1.0)
      for k in range(4)]
leg2 = fig.legend(h2, model_labels, loc='upper left', bbox_to_anchor=(207 / W, 1 - 29 / H), frameon=False,
                  handlelength=0.9, handletextpad=0.66, labelspacing=0.68, borderpad=0, borderaxespad=0,
                  fontsize=leg_size)
for t in leg1.get_texts() + leg2.get_texts():
    t.set_color(ink)

# outer frame lines
frame_col = '#d9849a'
fig.add_artist(Line2D([7 / W, 1], [1 - 13 / H, 1 - 13 / H], color=frame_col, lw=1.5))
fig.add_artist(Line2D([7 / W, 7 / W], [0, 1 - 13 / H], color=frame_col, lw=1.5))

fig.savefig('out.png', dpi=100)
